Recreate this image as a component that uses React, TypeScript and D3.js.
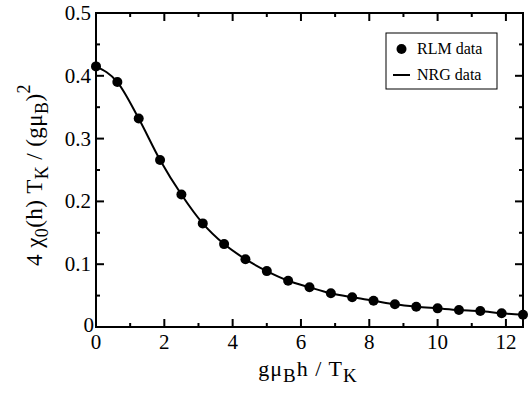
import * as d3 from "d3";

// field values g*muB*h/TK, sampled every 0.625
const fieldH = [
  0, 0.625, 1.25, 1.875, 2.5, 3.125, 3.75, 4.375, 5, 5.625, 6.25, 6.875, 7.5, 8.125, 8.75, 9.375, 10, 10.625, 11.25,
  11.875, 12.5,
];
const rlmChi = [
  0.415, 0.39, 0.332, 0.266, 0.211, 0.165, 0.132, 0.108, 0.089, 0.0737, 0.0632, 0.0536, 0.0473, 0.0419, 0.0361,
  0.0323, 0.0297, 0.0271, 0.0255, 0.0218, 0.0196,
];
const nrgChi = [
  0.415, 0.39, 0.332, 0.266, 0.211, 0.165, 0.132, 0.108, 0.089, 0.0737, 0.0632, 0.0536, 0.0473, 0.0419, 0.0361,
  0.0323, 0.0297, 0.0271, 0.0255, 0.0218, 0.0196,
];
const xMajor = [0, 2, 4, 6, 8, 10, 12];
const xMinor = [1, 3, 5, 7, 9, 11];
const yMajor = [0, 0.1, 0.2, 0.3, 0.4, 0.5];
const yMinor = [0.05, 0.15, 0.25, 0.35, 0.45];
const legendItems = ["RLM data", "NRG data"];

const W = 532;
const H = 394;
const M = { left: 96, right: 9, top: 13, bottom: 67 };
const txt = { fontFamily: "Liberation Serif" };

export default function App() {
  const x = d3.scaleLinear().domain([0, 12.5]).range([M.left, W - M.right]);
  const y = d3.scaleLinear().domain([0, 0.5]).range([H - M.bottom, M.top]);
  const [x0, x1] = x.range();
  const [y0, y1] = y.range();

  const line = d3
    .line<number>()
    .x((_, i) => x(fieldH[i]))
    .y((d) => y(d))
    .curve(d3.curveMonotoneX);

  const MAJ = 8;
  const MIN = 4;

  return (
    <svg width={W} height={H} style={{ position: "fixed", left: 0, top: 0, background: "#fff" }}>
      <rect x={0} y={0} width={W} height={H} fill="#fff" />

      {/* ticks, inward on all four sides */}
      <g stroke="#000" strokeWidth={2}>
        {xMajor.map((t) => (
          <g key={"xM" + t}>
            <line x1={x(t)} x2={x(t)} y1={y0} y2={y0 - MAJ} />
            <line x1={x(t)} x2={x(t)} y1={y1} y2={y1 + MAJ} />
          </g>
        ))}
        {xMinor.map((t) => (
          <g key={"xm" + t}>
            <line x1={x(t)} x2={x(t)} y1={y0} y2={y0 - MIN} />
            <line x1={x(t)} x2={x(t)} y1={y1} y2={y1 + MIN} />
          </g>
        ))}
        {yMajor.map((t) => (
          <g key={"yM" + t}>
            <line x1={x0} x2={x0 + MAJ} y1={y(t)} y2={y(t)} />
            <line x1={x1} x2={x1 - MAJ} y1={y(t)} y2={y(t)} />
          </g>
        ))}
        {yMinor.map((t) => (
          <g key={"ym" + t}>
            <line x1={x0} x2={x0 + MIN} y1={y(t)} y2={y(t)} />
            <line x1={x1} x2={x1 - MIN} y1={y(t)} y2={y(t)} />
          </g>
        ))}
      </g>

      {/* tick labels */}
      <g fontSize={21} fill="#000">
        {xMajor.map((t) => (
          <text key={"xl" + t} style={txt} x={x(t)} y={y0 + 22} textAnchor="middle">
            {t}
          </text>
        ))}
        {yMajor.map((t) => (
          <text key={"yl" + t} style={txt} x={t === 0 ? x0 - 2 : x0 - 5} y={y(t) + (t === 0 ? 5 : 7)} textAnchor="end">
            {t === 0 ? "0" : t.toFixed(1)}
          </text>
        ))}
      </g>

      {/* NRG line */}
      <path d={line(nrgChi) ?? ""} fill="none" stroke="#000" strokeWidth={2} />
      {/* RLM points */}
      {rlmChi.map((v, i) => (
        <circle key={"p" + i} cx={x(fieldH[i])} cy={y(v)} r={5} fill="#000" />
      ))}

      {/* frame */}
      <rect x={x0} y={y1} width={x1 - x0} height={y0 - y1} fill="none" stroke="#000" strokeWidth={2} />

      {/* legend */}
      <g>
        <rect x={386} y={33} width={111} height={56} fill="#fff" stroke="#000" strokeWidth={1} />
        <circle cx={401.5} cy={49} r={5} fill="#000" />
        <line x1={393} x2={410} y1={75} y2={75} stroke="#000" strokeWidth={2} />
        <text style={txt} x={417} y={54} fontSize={16}>
          {legendItems[0]}
        </text>
        <text style={txt} x={417} y={80} fontSize={16}>
          {legendItems[1]}
        </text>
      </g>

      {/* x axis title */}
      <text style={{ ...txt, letterSpacing: 1 }} x={308} y={376} fontSize={22} textAnchor="middle">
        gμ
        <tspan fontSize={19} dy={6}>
          B
        </tspan>
        <tspan dy={-6}>h / T</tspan>
        <tspan fontSize={19} dy={6}>
          K
        </tspan>
      </text>

      {/* y axis title */}
      <text
        style={{ ...txt, letterSpacing: 0.4 }}
        transform="translate(42,175) rotate(-90)"
        fontSize={23}
        textAnchor="middle"
      >
        4 χ
        <tspan fontSize={18} dy={6}>
          0
        </tspan>
        <tspan dy={-6}>(h) T</tspan>
        <tspan fontSize={18} dy={6}>
          K
        </tspan>
        <tspan dy={-6}> / (gμ</tspan>
        <tspan fontSize={18} dy={6}>
          B
        </tspan>
        <tspan dy={-6}>)</tspan>
        <tspan fontSize={18} dy={-12}>
          2
        </tspan>
      </text>
    </svg>
  );
}
